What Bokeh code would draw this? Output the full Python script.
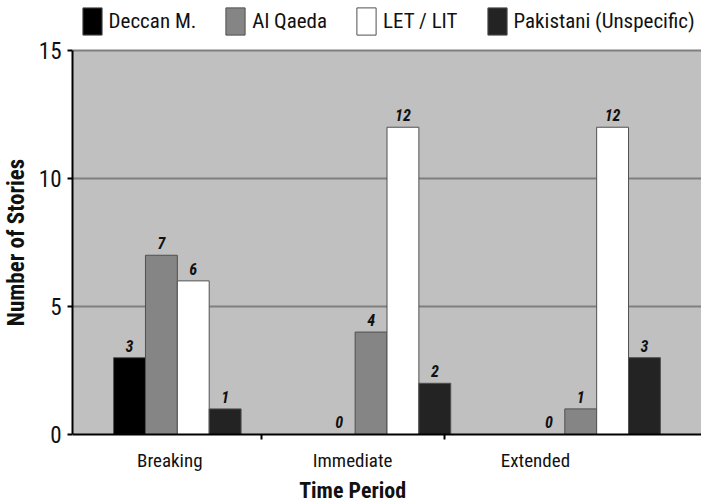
from bokeh.plotting import figure
from bokeh.models import (ColumnDataSource, Range1d, FixedTicker, Legend, LegendItem,
                          LinearAxis, BoxAnnotation, Label)
from bokeh.core.properties import value
from bokeh.embed import file_html
from bokeh.resources import INLINE

# ---- data ----
periods = ["Breaking", "Immediate", "Extended"]
series = ["Deccan M.", "Al Qaeda", "LET / LIT", "Pakistani (Unspecific)"]
deccan = [3, 0, 0]
al_qaeda = [7, 4, 1]
let_lit = [6, 12, 12]
pakistani = [1, 2, 3]
y_ticks = [0, 5, 10, 15]

values = [deccan, al_qaeda, let_lit, pakistani]
colors = ["#000000", "#858585", "#ffffff", "#232323"]

FONT = "Roboto Condensed"
BAR_W = 0.152
Y_MAX = 15
Y_TOP = 16.95    # room above the plot area for the legend
Y_BOT = -2.695   # room below the plot area for the category labels

p = figure(width=701, height=503, output_backend="svg", toolbar_location=None,
           x_range=Range1d(0, 3), y_range=Range1d(Y_BOT, Y_TOP),
           min_border_left=68, min_border_right=0, min_border_top=0,
           min_border_bottom=0, background_fill_color="white",
           border_fill_color="white", outline_line_color=None)

# grey plotting area (0..15 only)
p.add_layout(BoxAnnotation(bottom=0, top=Y_MAX, fill_color="#c0c0c0", fill_alpha=1,
                           line_color=None, level="image"))

renderers = []
for i, (name, vals, col) in enumerate(zip(series, values, colors)):
    xs = [k + 0.5 + (i - 1.5) * BAR_W for k in range(len(periods))]
    src = ColumnDataSource(dict(x=xs, top=vals, lab=[str(v) for v in vals]))
    r = p.vbar(x="x", top="top", width=BAR_W, source=src, fill_color=col,
               line_color="#505050", line_width=1)
    renderers.append(r)
    p.text(x="x", y="top", text="lab", source=src, y_offset=-12,
           text_align="center", text_baseline="middle",
           text_font=value(FONT), text_font_style="bold italic",
           text_font_size="16px", text_color="#111111")

# x axis at y = 0: category labels (as drawn in the original, slightly offset) and separators
label_pos = [0.464, 1.336, 2.208]
sep_pos = [0.9, 1.772]
xa = p.xaxis[0]
xa.fixed_location = 0
xa.ticker = FixedTicker(ticks=label_pos, minor_ticks=sep_pos)
xa.major_label_overrides = {pos: name for pos, name in zip(label_pos, periods)}
xa.major_tick_line_color = None
xa.major_tick_out = 0
xa.major_tick_in = 0
xa.minor_tick_line_color = "black"
xa.minor_tick_line_width = 2
xa.minor_tick_out = 5
xa.minor_tick_in = 0
xa.axis_line_color = "black"
xa.axis_line_width = 2
xa.major_label_text_font = FONT
xa.major_label_text_font_size = "19px"
xa.major_label_text_color = "#111111"
xa.major_label_standoff = 10

# x axis title, centred under the middle category label as in the original
p.add_layout(Label(x=label_pos[1], y=13, y_units="screen", text="Time Period",
                   text_font=FONT, text_font_style="bold", text_font_size="22px",
                   text_align="center", text_baseline="middle", text_color="#111111"))

ya = p.yaxis[0]
ya.ticker = FixedTicker(ticks=y_ticks)
ya.bounds = (0, Y_MAX)
ya.minor_tick_line_color = None
ya.major_tick_out = 5
ya.major_tick_in = 0
ya.major_tick_line_width = 2
ya.axis_line_width = 2
ya.major_label_text_font = FONT
ya.major_label_text_font_size = "23px"
ya.major_label_text_color = "#111111"
ya.major_label_standoff = 6

# y axis title, centred on 0..15
y_title = LinearAxis(ticker=FixedTicker(ticks=[Y_MAX / 2]),
                     major_label_overrides={Y_MAX / 2: "Number of Stories"},
                     major_label_orientation="parallel",
                     axis_line_color=None, major_tick_line_color=None,
                     minor_tick_line_color=None, major_tick_out=0, major_tick_in=0,
                     major_label_standoff=5, major_label_text_font=FONT,
                     major_label_text_font_style="bold", major_label_text_font_size="23px",
                     major_label_text_color="#111111")
p.add_layout(y_title, "left")

p.xgrid.grid_line_color = None
p.ygrid.grid_line_color = "#7f7f7f"
p.ygrid.grid_line_width = 2
p.ygrid.ticker = FixedTicker(ticks=y_ticks[1:])

legend = Legend(items=[LegendItem(label=n, renderers=[r]) for n, r in zip(series, renderers)],
                orientation="horizontal", location=(7.6, 465.4),
                glyph_width=24, glyph_height=34, label_standoff=5, spacing=27,
                padding=0, margin=0, border_line_color=None,
                background_fill_alpha=0, label_text_font=FONT,
                label_text_font_size="21px", label_text_color="#111111")
p.add_layout(legend, "center")

open("out.html", "w").write(file_html(p, INLINE))
